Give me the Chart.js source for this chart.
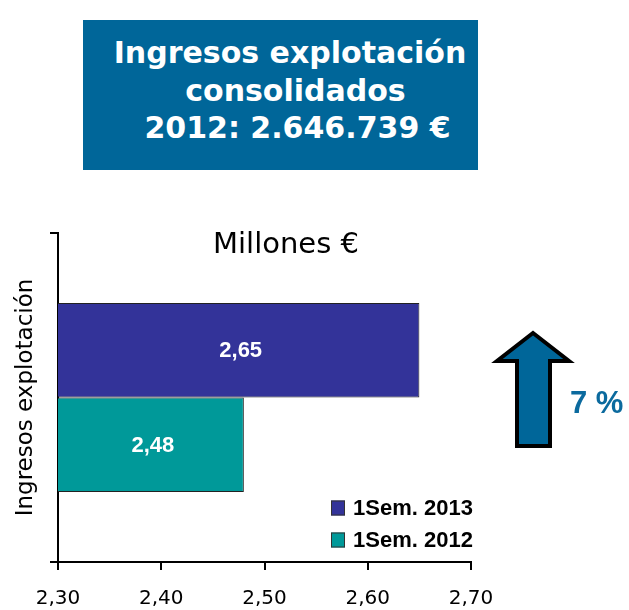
<!DOCTYPE html>
<html>
<head>
<meta charset="utf-8">
<script src="https://cdn.jsdelivr.net/npm/chart.js@4/dist/chart.umd.min.js"></script>
<style>
  html, body { margin: 0; padding: 0; background: #fff; }
  #wrap { position: relative; width: 629px; height: 610px; overflow: hidden; }
  #chart { position: absolute; left: 0; top: 0; }
  #titlebox {
    position: absolute; left: 83px; top: 20px; width: 395px; height: 150px;
    background: #006699; color: #fff; box-sizing: border-box;
    padding-top: 14px;
    font-family: "DejaVu Sans", Verdana, sans-serif; font-weight: bold;
    font-size: 30px; line-height: 37.5px; white-space: pre;
  }
  #titlebox div { text-align: center; }
</style>
</head>
<body>
<div id="wrap">
  <canvas id="chart" width="629" height="610"></canvas>
  <div id="titlebox"><div style="padding-left:19px">Ingresos explotación</div><div style="padding-left:30px">consolidados</div><div style="padding-left:34px">2012: 2.646.739 €</div></div>
</div>
<script>
// ---- data ----
const categories = ['Ingresos explotación'];
const seriesLabels = ['1Sem. 2013', '1Sem. 2012'];
const values2013 = [2.65];
const values2012 = [2.48];
const xTicks = [2.30, 2.40, 2.50, 2.60, 2.70];
const unitLabel = 'Millones €';
const growthLabel = '7 %';
const axisTitle = 'Ingresos explotación';

const colors = ['#333399', '#009999'];
const fmt = v => Number(v).toFixed(2).replace('.', ',');

const extrasPlugin = {
  id: 'extras',
  afterDraw(chart) {
    const ctx = chart.ctx;
    const xs = chart.scales.x;
    ctx.save();
    // value labels
    ctx.fillStyle = '#ffffff';
    ctx.font = 'bold 22px "Liberation Sans", Arial, sans-serif';
    ctx.textAlign = 'center';
    ctx.textBaseline = 'middle';
    chart.data.datasets.forEach((ds, i) => {
      const meta = chart.getDatasetMeta(i);
      meta.data.forEach((el, j) => {
        const v = ds.data[j];
        const px = (xs.getPixelForValue(v) + xs.getPixelForValue(xs.min)) / 2;
        const py = el.y;
        ctx.fillText(fmt(v), px + 2, py + 1);
      });
    });
    // unit label
    ctx.fillStyle = '#000';
    ctx.font = '29px "DejaVu Sans", Verdana, sans-serif';
    ctx.textAlign = 'center';
    ctx.textBaseline = 'alphabetic';
    ctx.fillText(unitLabel, 286, 253);
    // legend
    ctx.font = 'bold 22px "Liberation Sans", Arial, sans-serif';
    ctx.textAlign = 'left';
    ctx.textBaseline = 'middle';
    const rows = [508, 540];
    chart.data.datasets.forEach((ds, i) => {
      const y = rows[i];
      ctx.fillStyle = ds.backgroundColor;
      ctx.fillRect(331, y - 7.5, 14, 15);
      ctx.strokeStyle = '#333';
      ctx.lineWidth = 1;
      ctx.strokeRect(331.5, y - 7, 13, 14);
      ctx.fillStyle = '#000';
      ctx.fillText(ds.label, 353, y + 1);
    });
    // arrow
    ctx.beginPath();
    ctx.moveTo(533, 333);
    ctx.lineTo(569, 361);
    ctx.lineTo(550, 361);
    ctx.lineTo(550, 446);
    ctx.lineTo(517, 446);
    ctx.lineTo(517, 361);
    ctx.lineTo(497, 361);
    ctx.closePath();
    ctx.fillStyle = '#006699';
    ctx.fill();
    ctx.lineWidth = 4;
    ctx.lineJoin = 'miter';
    ctx.strokeStyle = '#000';
    ctx.stroke();
    // growth label
    ctx.fillStyle = '#0b6a9e';
    ctx.font = 'bold 31px "Liberation Sans", Arial, sans-serif';
    ctx.textAlign = 'left';
    ctx.textBaseline = 'alphabetic';
    ctx.fillText(growthLabel, 570, 413);
    ctx.restore();
  }
};

new Chart(document.getElementById('chart'), {
  type: 'bar',
  data: {
    labels: categories,
    datasets: [
      { label: seriesLabels[0], data: values2013, backgroundColor: colors[0] },
      { label: seriesLabels[1], data: values2012, backgroundColor: colors[1] }
    ]
  },
  options: {
    indexAxis: 'y',
    responsive: false,
    animation: false,
    devicePixelRatio: 1,
    layout: { padding: { top: 233, left: 0, right: 158, bottom: 0 } },
    datasets: {
      bar: {
        categoryPercentage: 0.575,
        barPercentage: 1,
        borderColor: '#222',
        borderWidth: 1,
        borderSkipped: false
      }
    },
    plugins: { legend: { display: false }, tooltip: { enabled: false }, title: { display: false } },
    scales: {
      x: {
        type: 'linear',
        min: xTicks[0],
        max: xTicks[xTicks.length - 1],
        afterBuildTicks: s => { s.ticks = xTicks.map(v => ({ value: v })); },
        ticks: {
          callback: v => fmt(v),
          color: '#000',
          padding: 17,
          font: { family: '"DejaVu Sans", Verdana, sans-serif', size: 20 }
        },
        grid: { drawOnChartArea: false, drawTicks: true, tickLength: 8, color: '#000', lineWidth: 2 },
        border: { display: true, color: '#000', width: 2 },
        afterFit: s => { s.height = 48; }
      },
      y: {
        type: 'category',
        ticks: { display: false },
        grid: { offset: true, drawOnChartArea: false, drawTicks: true, tickLength: 8, color: '#000', lineWidth: 2 },
        border: { display: true, color: '#000', width: 2 },
        title: {
          display: true,
          text: axisTitle,
          color: '#000',
          padding: { top: 12, bottom: 0 },
          font: { family: '"DejaVu Sans", Verdana, sans-serif', size: 23 }
        },
        afterFit: s => { s.width = 58; }
      }
    }
  },
  plugins: [extrasPlugin]
});
</script>
</body>
</html>
